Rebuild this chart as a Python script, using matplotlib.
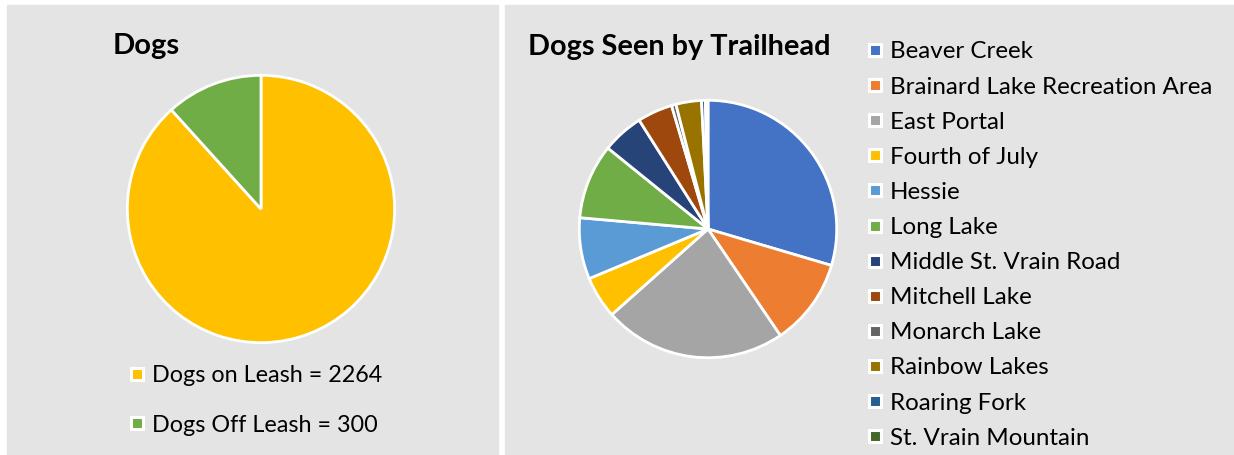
import matplotlib.pyplot as plt
from matplotlib.patches import Rectangle

# data
leash_labels = ["Dogs on Leash = 2264", "Dogs Off Leash = 300"]
leash_counts = [2264, 300]
leash_colors = ["#FFC000", "#70AD47"]

trailheads = ["Beaver Creek", "Brainard Lake Recreation Area", "East Portal",
              "Fourth of July", "Hessie", "Long Lake", "Middle St. Vrain Road",
              "Mitchell Lake", "Monarch Lake", "Rainbow Lakes", "Roaring Fork",
              "St. Vrain Mountain"]
trail_counts = [738, 273, 572, 132, 192, 235, 130, 110, 14, 80, 12, 8]
trail_colors = ["#4472C4", "#ED7D31", "#A5A5A5", "#FFC000", "#5B9BD5", "#70AD47",
                "#264478", "#9E480E", "#636363", "#997300", "#255E91", "#43682B"]

plt.rcParams['font.family'] = ['Lato', 'DejaVu Sans']
W, H = 1234, 455
BG = "#E4E4E4"

fig = plt.figure(figsize=(W / 100, H / 100), dpi=100)
fig.patch.set_facecolor("white")


def fx(x):
    return x / W


def fy(y):
    return 1 - y / H


# panel backgrounds
fig.patches.append(Rectangle((fx(7), fy(454)), (498 - 7) / W, (454 - 5) / H,
                             transform=fig.transFigure, color=BG, zorder=-5))
fig.patches.append(Rectangle((fx(505), fy(455)), (1234 - 505) / W, (455 - 5) / H,
                             transform=fig.transFigure, color=BG, zorder=-5))


def pie_axes(cx, cy, r):
    ax = fig.add_axes([fx(cx - r), fy(cy + r), 2 * r / W, 2 * r / H])
    ax.set_zorder(1)
    ax.patch.set_visible(False)
    return ax


# left pie
ax1 = pie_axes(261, 209, 135)
ax1.pie(leash_counts, colors=leash_colors, startangle=90, counterclock=False,
        radius=1, wedgeprops=dict(edgecolor="white", linewidth=2))
ax1.set_xlim(-1.01, 1.01)
ax1.set_ylim(-1.01, 1.01)
ax1.axis("off")

# right pie
ax2 = pie_axes(708, 229, 130)
ax2.pie(trail_counts, colors=trail_colors, startangle=90, counterclock=False,
        radius=1, wedgeprops=dict(edgecolor="white", linewidth=2))
ax2.set_xlim(-1.01, 1.01)
ax2.set_ylim(-1.01, 1.01)
ax2.axis("off")

# titles
fig.text(fx(113), fy(54), "Dogs", fontsize=21, fontweight="bold", va="baseline")
fig.text(fx(528), fy(55), "Dogs Seen by Trailhead", fontsize=20.8,
         fontweight="bold", va="baseline")


def legend_item(x, y, color, label, size, box):
    fig.patches.append(Rectangle((fx(x - box / 2), fy(y + box / 2)), box / W, box / H,
                                 transform=fig.transFigure, facecolor=color,
                                 edgecolor="white", linewidth=2.2, zorder=3))
    fig.text(fx(x + 15), fy(y), label, fontsize=size, va="center_baseline")


# left legend
for i, (lab, col) in enumerate(zip(leash_labels, leash_colors)):
    legend_item(137, 374 + i * 49, col, lab, 16.8, 12)

# right legend
for i, (lab, col) in enumerate(zip(trailheads, trail_colors)):
    legend_item(875, 50 + i * 35.1, col, lab, 17.4, 12)

fig.savefig("out.png", dpi=100, facecolor="white")
